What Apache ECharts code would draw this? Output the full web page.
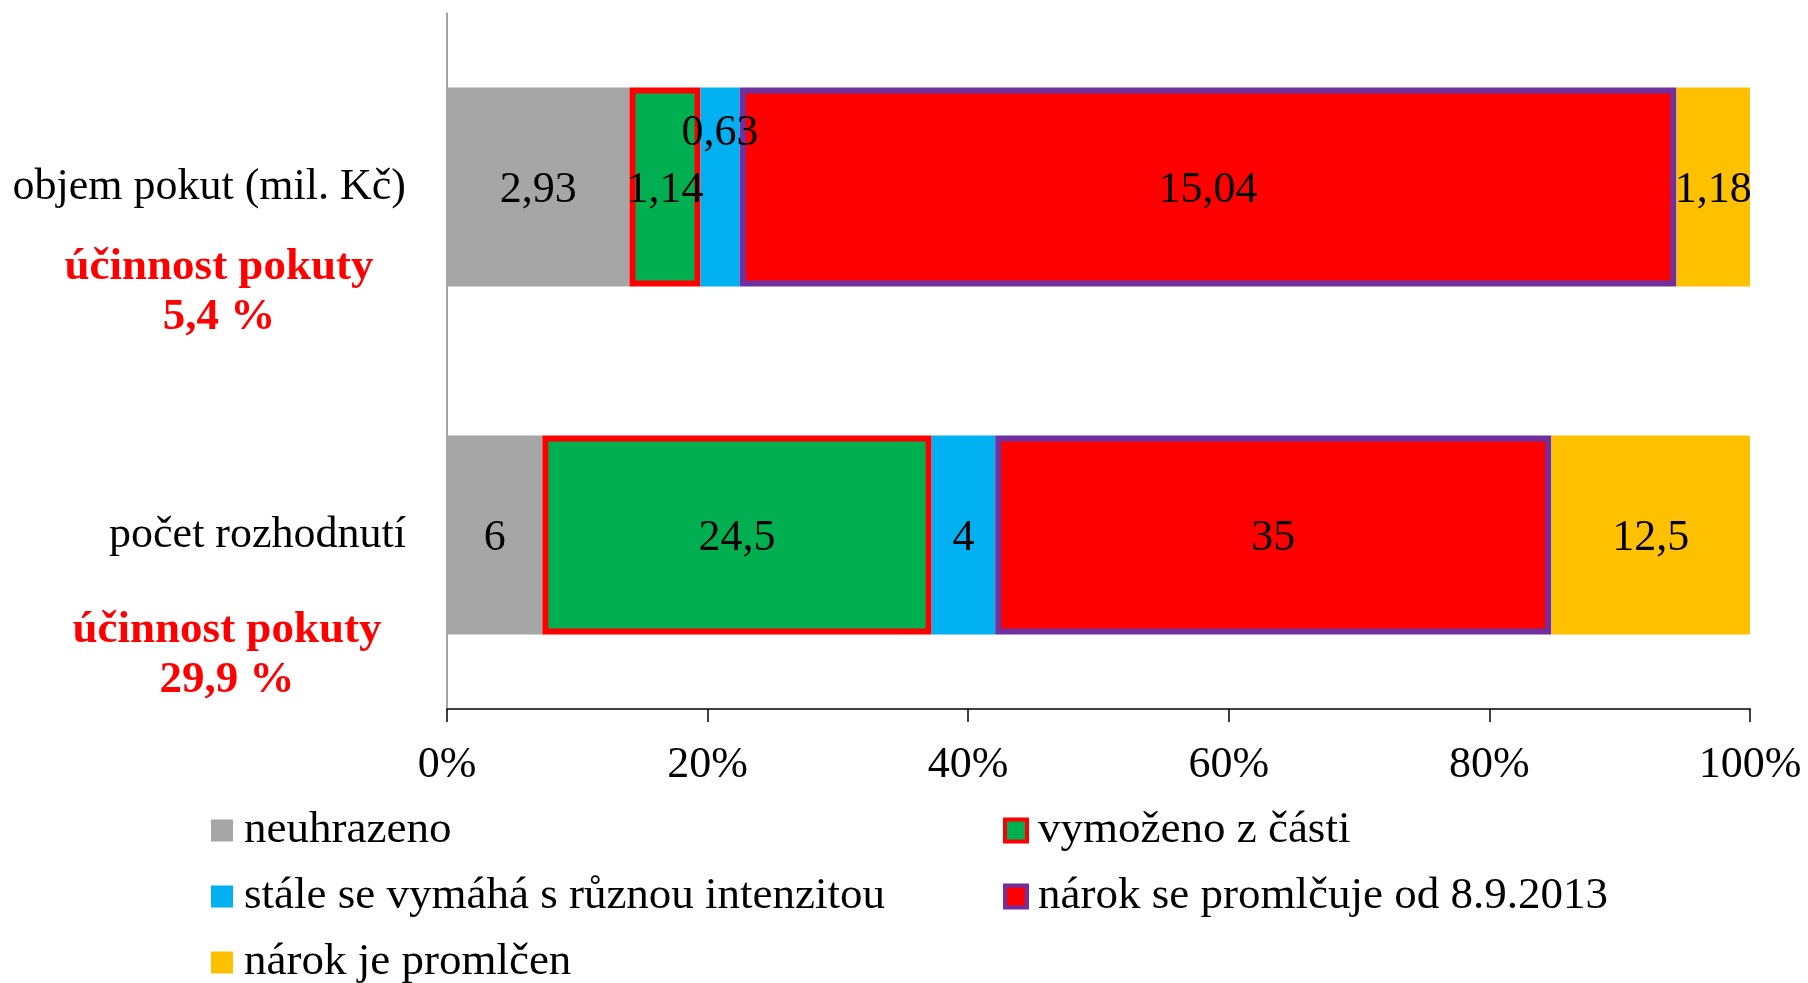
<!DOCTYPE html>
<html><head><meta charset="utf-8">
<script src="https://cdn.jsdelivr.net/npm/echarts@6/dist/echarts.min.js"></script>
<style>html,body{margin:0;padding:0;background:#fff}#c{width:1808px;height:983px}</style>
</head><body><div id="c"></div>
<script>
const categories = ['objem pokut (mil. Kč)', 'počet rozhodnutí'];
const seriesNames = ['neuhrazeno', 'vymoženo z části', 'stále se vymáhá s různou intenzitou', 'nárok se promlčuje od 8.9.2013', 'nárok je promlčen'];
const neuhrazeno = [2.93, 6];
const vymozenoZCasti = [1.14, 24.5];
const staleSeVymaha = [0.63, 4];
const promlcujeSe = [15.04, 35];
const promlcen = [1.18, 12.5];
const ucinnost = ['účinnost pokuty\n5,4 %', 'účinnost pokuty\n29,9 %'];
const xTickLabels = ['0%', '20%', '40%', '60%', '80%', '100%'];

const FONT = '"Liberation Serif", "DejaVu Serif", serif';
const allValues = [neuhrazeno, vymozenoZCasti, staleSeVymaha, promlcujeSe, promlcen];
const totals = categories.map((c, i) => allValues.reduce((s, a) => s + a[i], 0));
const fmt = v => String(v).replace('.', ',');

const styles = [
  { color: '#A6A6A6' },
  { color: '#00B050', borderColor: '#FF0000', borderWidth: 6 },
  { color: '#00B0F0' },
  { color: '#FF0000', borderColor: '#7030A0', borderWidth: 6 },
  { color: '#FFC000' }
];

const series = allValues.map((arr, si) => ({
  name: seriesNames[si],
  type: 'bar',
  stack: 'total',
  barWidth: 199,
  itemStyle: styles[si],
  label: {
    show: true, position: 'inside', color: '#000', fontSize: 44, fontFamily: FONT,
    offset: [0, 3],
    formatter: p => fmt(p.data.raw)
  },
  data: arr.map((v, ci) => {
    const d = { value: v / totals[ci], raw: v };
    if (si === 2 && ci === 0) d.label = { offset: [0, -54] };
    return d;
  })
}));

const legendCommon = {
  orient: 'vertical', top: 808, height: 260, padding: 0, icon: 'rect',
  itemWidth: 22, itemHeight: 22, itemGap: 21,
  textStyle: { fontSize: 45, fontFamily: FONT, color: '#000', padding: [0, 0, 0, 6] }
};
const legendItem = (i) => {
  const st = styles[i];
  return st.borderWidth
    ? { name: seriesNames[i], itemStyle: { borderColor: st.borderColor, borderWidth: 4 } }
    : { name: seriesNames[i] };
};

const chart = echarts.init(document.getElementById('c'));
chart.setOption({
  backgroundColor: '#fff',
  animation: false,
  grid: { left: 447, right: 58, top: 13, bottom: 274, containLabel: false },
  xAxis: {
    type: 'value', min: 0, max: 1, interval: 0.2,
    axisLine: { show: true, lineStyle: { color: '#404040', width: 2 } },
    axisTick: { show: true, length: 13, lineStyle: { color: '#000', width: 1.5 } },
    splitLine: { show: false },
    axisLabel: { color: '#000', fontSize: 44, fontFamily: FONT, margin: 34,
      formatter: v => xTickLabels[Math.round(v * 5)] }
  },
  yAxis: {
    type: 'category', inverse: true, data: categories,
    axisLine: { show: true, lineStyle: { color: '#868686', width: 1.5 } },
    axisTick: { show: false },
    axisLabel: { color: '#000', fontSize: 44, fontFamily: FONT, margin: 41, padding: [6, 0, 0, 0] }
  },
  legend: [
    Object.assign({ left: 211, data: [legendItem(0), legendItem(2), legendItem(4)] }, legendCommon),
    Object.assign({ left: 1003, data: [legendItem(1), legendItem(3)] }, legendCommon)
  ],
  graphic: [
    { type: 'text', x: 219, y: 292, style: { text: ucinnost[0], fill: '#FF0000', font: 'bold 45px ' + FONT, textAlign: 'center', textVerticalAlign: 'middle', lineHeight: 50 } },
    { type: 'text', x: 227, y: 655, style: { text: ucinnost[1], fill: '#FF0000', font: 'bold 45px ' + FONT, textAlign: 'center', textVerticalAlign: 'middle', lineHeight: 50 } }
  ],
  series: series
});
</script></body></html>
